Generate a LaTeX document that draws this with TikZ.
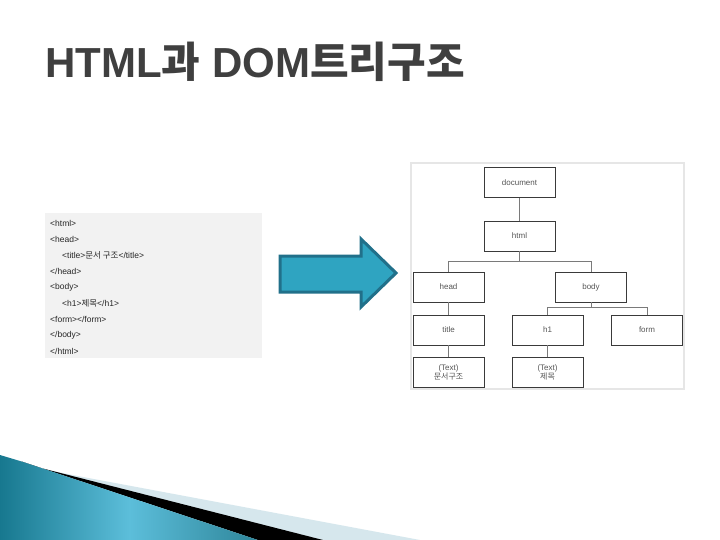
\documentclass[tikz,border=0pt]{standalone}
\usepackage{fontspec}
\setmainfont{Liberation Sans}
\newfontfamily\kr{Noto Sans CJK KR}
\newfontfamily\krb{Noto Sans CJK KR Bold}
\usetikzlibrary{shadings}
\definecolor{titlegray}{HTML}{3F3F3F}
\definecolor{codebg}{HTML}{F2F2F2}
\definecolor{arrowfill}{HTML}{2FA4C1}
\definecolor{arrowedge}{HTML}{21708A}
\definecolor{panelline}{HTML}{E6E6E6}
\definecolor{boxline}{HTML}{3A3A3A}
\definecolor{conn}{HTML}{7A7A7A}
\definecolor{boxtext}{HTML}{555555}
\definecolor{darkteal}{HTML}{17788F}
\definecolor{lightteal}{HTML}{5CBEDA}
\definecolor{paleblue}{HTML}{D6E7ED}
\begin{document}
\begin{tikzpicture}[x=1pt,y=-1pt,
  treebox/.style={draw=boxline,line width=0.9pt,fill=white,minimum width=71pt,minimum height=30pt,inner sep=0pt,font=\fontsize{8}{9.5}\selectfont,text=boxtext,align=center},
  codeline/.style={anchor=west,inner sep=0pt,font=\fontsize{8.5}{10}\selectfont,text=black!85},
  link/.style={draw=conn,line width=0.8pt}]
\useasboundingbox (0,0) rectangle (720,540);
\fill[white] (0,0) rectangle (720,540);
% title
\node (title) [anchor=base west,inner sep=0pt,text=titlegray] at (45,78)
  {\fontsize{42}{48}\selectfont\bfseries HTML{\krb 과} DOM{\krb 트리구조}};
% code box
\fill[codebg] (45,213) rectangle (262,358);
\node[codeline] (c1) at (50,223) {<html>};
\node[codeline] (c2) at (50,239) {<head>};
\node[codeline] (c3) at (62,255) {<title>{\kr 문서 구조}</title>};
\node[codeline] (c4) at (50,271) {</head>};
\node[codeline] (c5) at (50,287) {<body>};
\node[codeline] (c6) at (62,303) {<h1>{\kr 제목}</h1>};
\node[codeline] (c7) at (50,319) {<form></form>};
\node[codeline] (c8) at (50,335) {</body>};
\node[codeline] (c9) at (50,351) {</html>};
% arrow
\draw[fill=arrowfill,draw=arrowedge,line width=3pt,line join=miter]
  (280,256) -- (361,256) -- (361,239) -- (396,273) -- (361,307) -- (361,292) -- (280,292) -- cycle;
% tree panel
\draw[panelline,line width=1.5pt,fill=white] (411,163) rectangle (684,389);
\node[treebox] (doc) at (519.5,182.5) {document};
\node[treebox] (html) at (519.5,236) {html};
\node[treebox] (head) at (448.5,287) {head};
\node[treebox] (body) at (591,287) {body};
\node[treebox] (ttl) at (448.5,330) {title};
\node[treebox] (h1) at (547.5,330) {h1};
\node[treebox] (form) at (647,330) {form};
\node[treebox] (t1) at (448.5,372.5) {(Text)\\{\kr 문서구조}};
\node[treebox] (t2) at (547.5,372.5) {(Text)\\{\kr 제목}};
\draw[link] (doc) -- (html);
\draw[link] (html.south) -- ++(0,10) -| (head.north);
\draw[link] (html.south) ++(0,10) -| (body.north);
\draw[link] (body.south) -- ++(0,5) -| (h1.north);
\draw[link] (body.south) ++(0,5) -| (form.north);
\draw[link] (head) -- (ttl);
\draw[link] (ttl) -- (t1);
\draw[link] (h1) -- (t2);
% bottom-left decoration
\fill[paleblue] (37,468) -- (83,477) -- (420,540) -- (323,540) -- cycle;
\fill[black] (20,461) -- (37,467) -- (323,540) -- (258,540) -- cycle;
\shade[left color=darkteal,right color=darkteal!90,middle color=lightteal]
  (0,455) -- (20,461) -- (258,540) -- (0,540) -- cycle;
\end{tikzpicture}
\end{document}
